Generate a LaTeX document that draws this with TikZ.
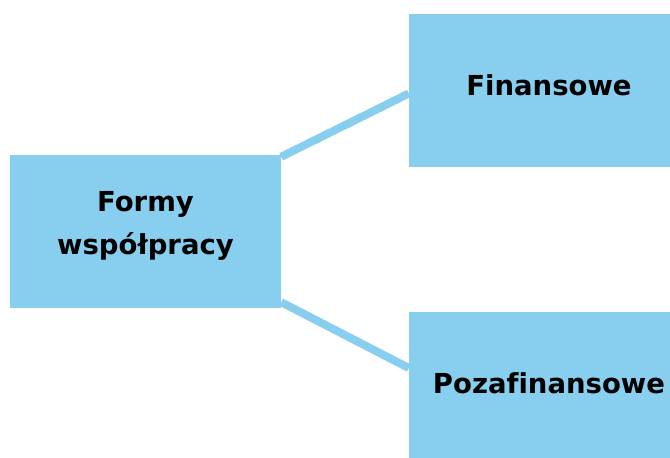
\documentclass[tikz,border=0pt]{standalone}
\usepackage{fontspec}
\setmainfont[Ligatures=NoCommon]{DejaVu Sans}
\usepackage{tikz}
\usetikzlibrary{positioning}
\definecolor{boxblue}{HTML}{87CEEF}
\tikzstyle{formbox} = [rectangle, fill=boxblue, text centered, align=center, font=\bfseries\fontsize{27.5}{43}\selectfont]
\tikzstyle{link} = [line width=8pt, draw=boxblue]

\begin{document}
\begin{tikzpicture}[x=1pt, y=-1pt]

    % Frame
    \clip (0,0) rectangle (670,458);
    \fill[white] (0,0) rectangle (670,458);

    % Nodes
    \node (formy) [formbox, minimum width=271pt, minimum height=153pt, text depth=17pt] at (145.5,231.5) {Formy\\współpracy};
    \node (fin) [formbox, minimum width=280pt, minimum height=153pt, text depth=10pt] at (549,90.5) {Finansowe};
    \node (poza) [formbox, minimum width=280pt, minimum height=146pt, text depth=4pt] at (549,385) {Pozafinansowe};

    % Lines
    \draw [link] ([yshift=-2pt]formy.north east) -- ([yshift=-3pt]fin.west);
    \draw [link] ([yshift=6pt]formy.south east) -- ([yshift=17pt]poza.west);

\end{tikzpicture}
\end{document}
